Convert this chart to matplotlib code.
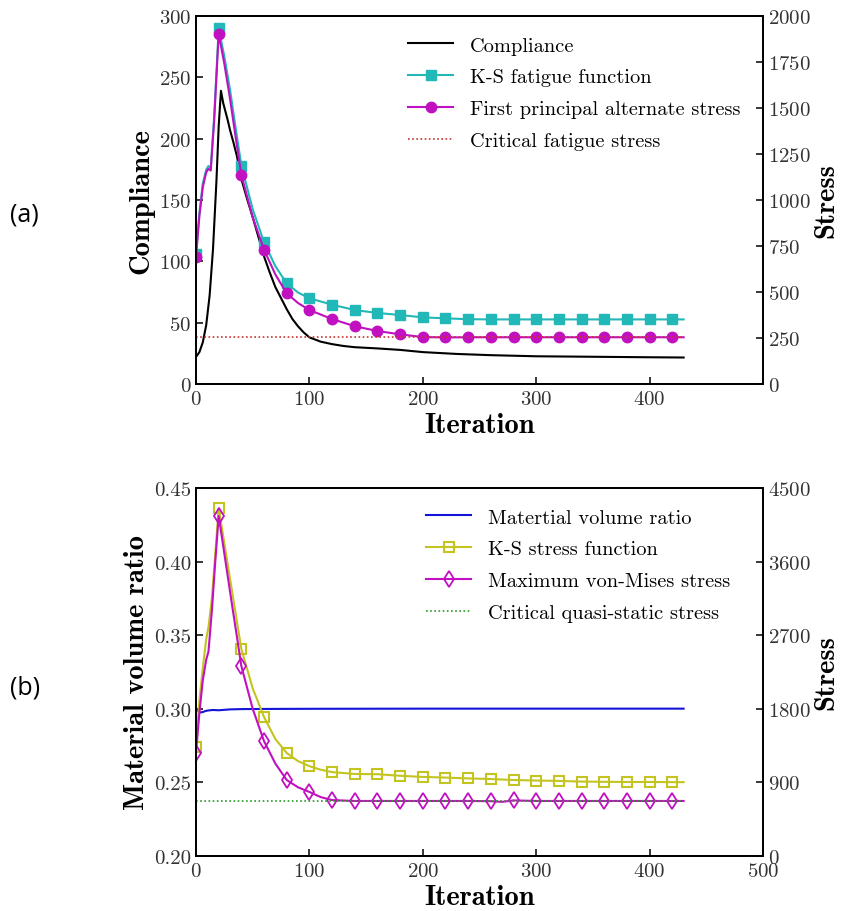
import numpy as np
import matplotlib
matplotlib.use("Agg")
import matplotlib.pyplot as plt

plt.rcParams['font.family'] = ['cmr10', 'DejaVu Serif']
plt.rcParams['axes.formatter.use_mathtext'] = True
plt.rcParams['mathtext.fontset'] = 'cm'

# ---------------- (a) data ----------------
comp_iter = [0, 3, 6, 9, 12, 15, 18, 20, 22, 24, 26, 28, 30, 33, 36, 40, 45, 50, 55, 60,
             65, 70, 75, 80, 85, 90, 95, 100, 110, 120, 130, 140, 160, 180, 200, 230,
             260, 300, 350, 400, 430]
compliance = [22, 26, 34, 48, 72, 110, 165, 210, 239, 229, 222, 215, 207, 197, 186, 167,
              151, 136, 120, 104, 91, 79, 70, 61, 53, 47, 42, 38, 34.5, 32.5, 31, 30, 29,
              27.8, 26, 24.5, 23.5, 22.6, 22.2, 21.8, 21.6]

stress_iter_a = [0, 3, 6, 9, 11, 13, 16, 20, 25, 30, 35, 40, 50, 60, 70, 80, 90, 100,
                 120, 140, 160, 180, 200, 220, 240, 260, 280, 300, 320, 340, 360, 380,
                 400, 420, 430]
ks_fatigue = [707, 930, 1090, 1165, 1185, 1175, 1450, 1933, 1780, 1600, 1390, 1187, 950,
              770, 640, 547, 497, 466, 431, 402, 386, 375, 362, 357, 352, 351, 351, 351,
              351, 351, 351, 351, 351, 351, 351]
first_principal = [689, 915, 1070, 1150, 1170, 1160, 1430, 1902, 1740, 1550, 1340, 1136,
                   905, 730, 595, 493, 440, 402, 353, 314, 288, 270, 255, 253, 254, 254,
                   254, 254, 254, 254, 254, 254, 254, 254, 254]
critical_fatigue = 254

# ---------------- (b) data ----------------
vol_iter = [0, 2, 4, 6, 8, 10, 15, 20, 25, 30, 40, 60, 100, 200, 300, 430]
volume_ratio = [0.3000, 0.2985, 0.2975, 0.2978, 0.2984, 0.2988, 0.2992, 0.2990, 0.2993,
                0.2996, 0.2998, 0.2999, 0.3000, 0.3001, 0.3001, 0.3001]

stress_iter_b = [0, 3, 6, 9, 11, 14, 17, 20, 24, 28, 32, 36, 40, 50, 60, 70, 80, 90, 100,
                 110, 120, 140, 160, 180, 200, 220, 240, 260, 270, 280, 300, 320, 340,
                 360, 380, 400, 420, 430]
ks_stress = [1332, 1900, 2300, 2650, 2800, 3150, 3700, 4255, 3910, 3565, 3220, 2875, 2531,
             2050, 1699, 1430, 1260, 1160, 1098, 1055, 1026, 1003, 1000, 981, 967, 959,
             949, 941, 935, 929, 923, 918, 910, 907, 905, 905, 903, 903]
von_mises = [1260, 1750, 2150, 2400, 2500, 3000, 3600, 4158, 3790, 3420, 3050, 2690, 2322,
             1800, 1404, 1130, 929, 840, 783, 720, 684, 673, 673, 673, 673, 673, 673, 670,
             662, 680, 673, 673, 673, 673, 673, 673, 673, 673]
critical_static = 670

W, H = 842, 912
fig = plt.figure(figsize=(W / 100, H / 100), dpi=100)

tick_col = '#333333'
lab_font = dict(family='cmb10', fontsize=20.5)


def style_axes(ax, ax2):
    for a in (ax, ax2):
        a.tick_params(direction='in', length=5, width=1.1, labelsize=15,
                      labelcolor=tick_col, top=False)
        for s in a.spines.values():
            s.set_linewidth(1.3)
    ax.tick_params(axis='x', pad=4)


def marks(iters):
    return [i for i, it in enumerate(iters) if it % 20 == 0 and it <= 420]


# ---------------- panel (a) ----------------
ax = fig.add_axes([196 / W, 1 - 385 / H, (763 - 196) / W, (385 - 17) / H])
ax2 = ax.twinx()
l1, = ax.plot(comp_iter, compliance, color='black', lw=1.5, label='Compliance')
l2, = ax2.plot(stress_iter_a, ks_fatigue, color='#22b8b8', lw=1.5, marker='s', ms=7,
               markevery=marks(stress_iter_a), label='K-S fatigue function')
l3, = ax2.plot(stress_iter_a, first_principal, color='#c010c0', lw=1.5, marker='o', ms=7.5,
               markevery=marks(stress_iter_a), label='First principal alternate stress')
l4, = ax2.plot([0, 430], [critical_fatigue, critical_fatigue], color='#d03030', lw=1.2,
               ls=(0, (1, 1.5)), label='Critical fatigue stress')
ax.set_xlim(0, 500)
ax.set_ylim(0, 300)
ax2.set_ylim(0, 2000)
ax.set_xticks([0, 100, 200, 300, 400])
ax.set_yticks(np.arange(0, 301, 50))
ax2.set_yticks(np.arange(0, 2001, 250))
ax.set_xlabel('Iteration', labelpad=3, **lab_font)
ax.set_ylabel('Compliance', labelpad=3, **lab_font)
ax2.set_ylabel('Stress', labelpad=2, **lab_font)
style_axes(ax, ax2)
ax2.legend(handles=[l1, l2, l3, l4], loc='upper left', bbox_to_anchor=(0.342, 0.995),
           frameon=False, fontsize=14.7, handlelength=2.2, handletextpad=0.8,
           labelspacing=0.66)

# ---------------- panel (b) ----------------
bx = fig.add_axes([196 / W, 1 - 857 / H, (763 - 196) / W, (857 - 489) / H])
bx2 = bx.twinx()
m1, = bx.plot(vol_iter, volume_ratio, color='#1414d8', lw=1.5, label='Matertial volume ratio')
m2, = bx2.plot(stress_iter_b, ks_stress, color='#c4c420', lw=1.5, marker='s', ms=7,
               mfc='none', mew=1.5, markevery=marks(stress_iter_b), label='K-S stress function')
m3, = bx2.plot(stress_iter_b, von_mises, color='#c010c0', lw=1.5, marker='d', ms=8,
               mfc='none', mew=1.3, markevery=marks(stress_iter_b),
               label='Maximum von-Mises stress')
m4, = bx2.plot([0, 430], [critical_static, critical_static], color='#2a9a2a', lw=1.2,
               ls=(0, (1, 1.5)), label='Critical quasi-static stress')
bx.set_xlim(0, 500)
bx.set_ylim(0.20, 0.45)
bx2.set_ylim(0, 4500)
bx.set_xticks(np.arange(0, 501, 100))
bx.set_yticks(np.arange(0.20, 0.451, 0.05))
bx.set_yticklabels(['%.2f' % v for v in np.arange(0.20, 0.451, 0.05)])
bx2.set_yticks(np.arange(0, 4501, 900))
bx.set_xlabel('Iteration', labelpad=3, **lab_font)
bx.set_ylabel('Material volume ratio', labelpad=3, **lab_font)
bx2.set_ylabel('Stress', labelpad=2, **lab_font)
style_axes(bx, bx2)
bx2.legend(handles=[m1, m2, m3, m4], loc='upper left', bbox_to_anchor=(0.374, 0.995),
           frameon=False, fontsize=14.7, handlelength=2.2, handletextpad=0.8,
           labelspacing=0.66)

fig.text(10 / W, 1 - 215 / H, '(a)', family='Open Sans', fontsize=18, va='center')
fig.text(10 / W, 1 - 688 / H, '(b)', family='Open Sans', fontsize=18, va='center')

fig.savefig('out.png', dpi=100)
